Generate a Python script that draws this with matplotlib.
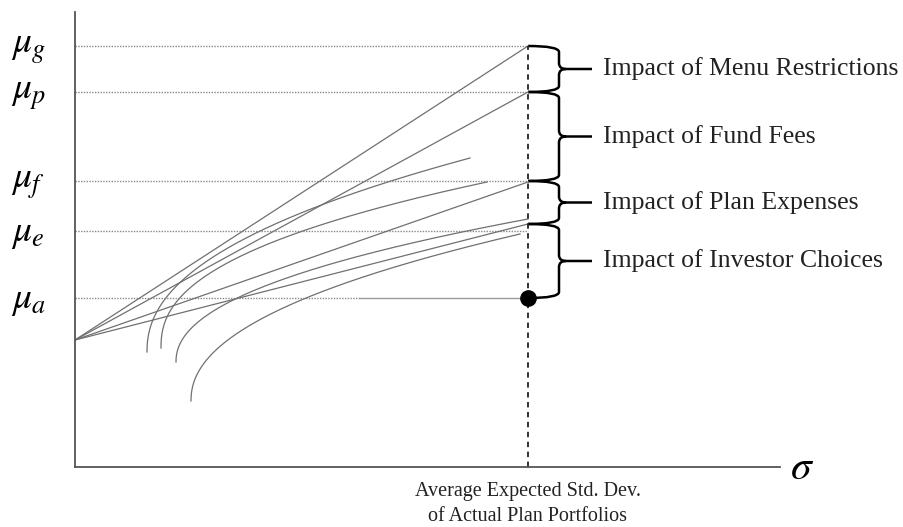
import numpy as np
import matplotlib.pyplot as plt
from matplotlib.path import Path
from matplotlib.patches import PathPatch

plt.rcParams['mathtext.fontset'] = 'stix'
serif = 'Liberation Serif'

# expected-return levels (arbitrary units)
mu_names = ['g', 'p', 'f', 'e', 'a']
mu_levels = [4.21, 3.75, 2.86, 2.36, 1.69]

sigma_avg = 4.53      # average expected std. dev. of actual plan portfolios
rf = 1.27             # intercept of the fan of lines

# end points of the straight lines on the dashed vertical
fan_ends = [4.21, 3.75, 2.85, 2.43]

# frontier curves: start (vertical tangent) and end points
curve_start_sigma = [0.72, 0.86, 1.01, 1.16]
curve_start_mu = [1.15, 1.19, 1.05, 0.66]
curve_end_sigma = [3.95, 4.12, 4.53, 4.45]
curve_end_mu = [3.09, 2.85, 2.48, 2.33]
curve_power = [0.45, 0.42, 0.46, 0.46]

# braces on the right
brace_tops = [4.21, 3.75, 2.86, 2.43]
brace_bottoms = [3.75, 2.86, 2.43, 1.69]
impacts = ['Impact of Menu Restrictions', 'Impact of Fund Fees',
           'Impact of Plan Expenses', 'Impact of Investor Choices']

fig = plt.figure(figsize=(9.04, 5.27), dpi=100)
ax = fig.add_axes([75 / 904, 60 / 527, 705 / 904, 455 / 527])
ax.set_xlim(0, 7.05)
ax.set_ylim(0, 4.55)
for side in ['top', 'right']:
    ax.spines[side].set_visible(False)
for side in ['left', 'bottom']:
    ax.spines[side].set_color('#555555')
    ax.spines[side].set_linewidth(1.3)
ax.set_xticks([])
ax.set_yticks([])

# horizontal reference lines and mu labels
for name, lev in zip(mu_names, mu_levels):
    if name == 'a':
        ax.plot([0, 2.85], [lev, lev], color='#888888', lw=1, ls=(0, (1, 1)))
        ax.plot([2.85, sigma_avg], [lev, lev], color='#999999', lw=1)
    else:
        ax.plot([0, sigma_avg], [lev, lev], color='#888888', lw=1, ls=(0, (1, 1)))
    ax.text(-0.64, lev - 0.02, r'$\mu_%s$' % name, fontsize=27,
            ha='left', va='center', clip_on=False)

# straight lines from the intercept
for end in fan_ends:
    ax.plot([0, sigma_avg], [rf, end], color='#707070', lw=0.9)

# frontier curves
for s0, m0, s1, m1, p in zip(curve_start_sigma, curve_start_mu,
                             curve_end_sigma, curve_end_mu, curve_power):
    mu = np.linspace(m0, m1, 300)
    sig = s0 + (s1 - s0) * ((mu - m0) / (m1 - m0)) ** (1 / p)
    ax.plot(sig, mu, color='#707070', lw=0.9)

# dashed vertical and the actual portfolio point
ax.plot([sigma_avg, sigma_avg], [0, mu_levels[0]], color='#222222', lw=1.3,
        ls=(0, (3, 2.5)))
ax.plot([sigma_avg], [mu_levels[-1]], 'o', color='black', ms=11, zorder=5)


def brace(x0, x1, xtip, ytop, ybot):
    ym = (ytop + ybot) / 2
    r = 0.06
    t = 0.07
    verts = [(x0, ytop), (x1, ytop), (x1, ytop - r),
             (x1, ym + r), (x1, ym), (x1 + t, ym),
             (x1, ym), (x1, ym - r),
             (x1, ybot + r), (x1, ybot), (x0, ybot),
             (x1 + t, ym), (xtip, ym)]
    codes = [Path.MOVETO, Path.CURVE3, Path.CURVE3,
             Path.LINETO, Path.CURVE3, Path.CURVE3,
             Path.CURVE3, Path.CURVE3,
             Path.LINETO, Path.CURVE3, Path.CURVE3,
             Path.MOVETO, Path.LINETO]
    ax.add_patch(PathPatch(Path(verts, codes), fc='none', ec='black',
                           lw=1.8, clip_on=False))
    return ym


for top, bot, lab in zip(brace_tops, brace_bottoms, impacts):
    ym = brace(sigma_avg, 4.84, 5.17, top, bot)
    ax.text(5.28, ym, lab, fontsize=18.5, family=serif, ha='left',
            va='center', color='#222222', clip_on=False)

ax.text(sigma_avg, -0.15, 'Average Expected Std. Dev.\nof Actual Plan Portfolios',
        fontsize=14.5, family=serif, ha='center', va='top', color='#222222',
        linespacing=1.45, clip_on=False)
ax.text(7.15, 0.0, r'$\sigma$', fontsize=30, ha='left', va='center',
        clip_on=False)

fig.savefig('out.png', dpi=100)
